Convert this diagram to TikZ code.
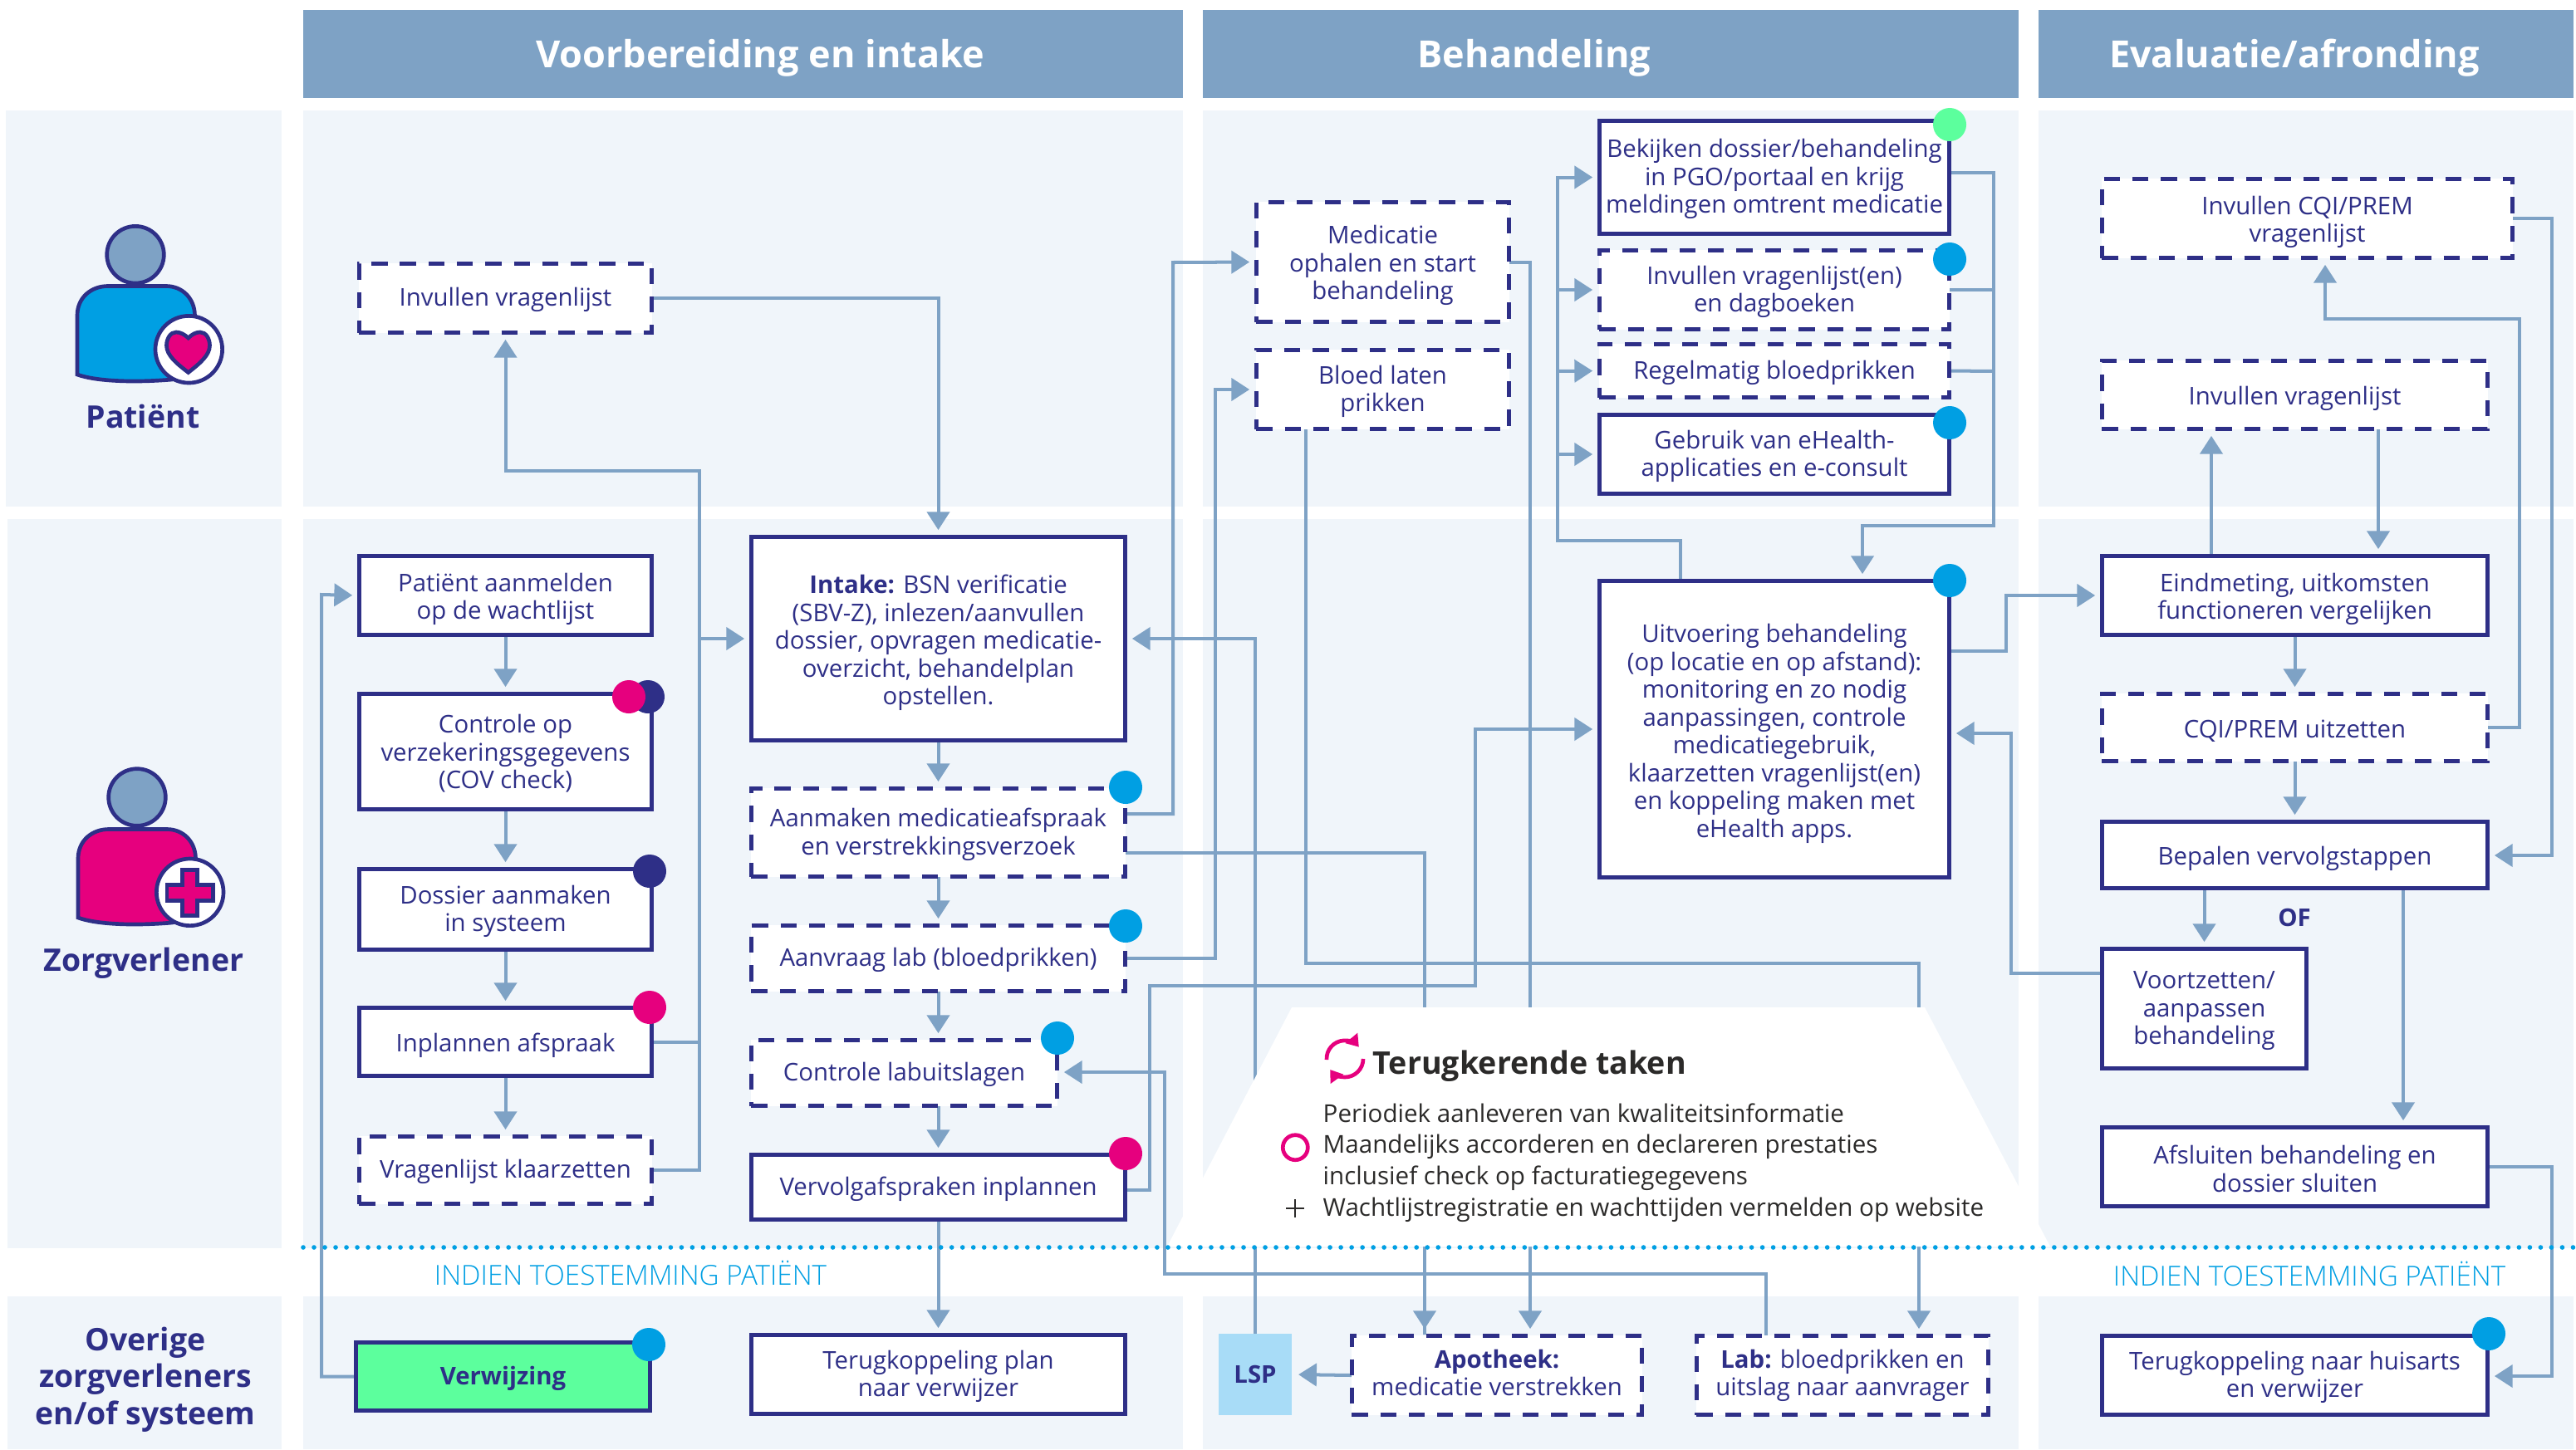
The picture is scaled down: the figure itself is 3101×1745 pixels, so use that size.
\documentclass[tikz,border=0pt]{standalone}
\usepackage{fontspec}
\setmainfont{Open Sans}
\newfontfamily\oslight{Open Sans Light}
\usetikzlibrary{arrows.meta,calc}
\definecolor{hdr}{HTML}{7EA2C5}
\definecolor{panelc}{HTML}{F0F5FA}
\definecolor{navy}{HTML}{2E2F87}
\definecolor{lnk}{HTML}{7EA2C5}
\definecolor{cblue}{HTML}{009FE3}
\definecolor{cmag}{HTML}{E6007E}
\definecolor{cgreen}{HTML}{5CFF9D}
\definecolor{clsp}{HTML}{A8DCF7}
\definecolor{ink}{HTML}{2B2A29}
\pgfdeclarelayer{panel}\pgfdeclarelayer{links}\pgfdeclarelayer{over}
\pgfsetlayers{panel,links,main,over}
\newcommand{\bx}[7]{%
  \pgfmathsetmacro\bxcx{(#3+#5)/2}\pgfmathsetmacro\bxcy{(#4+#6)/2}%
  \node[#2,minimum width={(#5-#3)*0.01cm-0.7pt},minimum height={(#6-#4)*0.01cm-0.7pt}] (#1) at (\bxcx,\bxcy) {\rule{0pt}{7.6pt}#7};}
\newcommand{\bxn}[7]{%
  \pgfmathsetmacro\bxcx{(#3+#5)/2}\pgfmathsetmacro\bxcy{(#4+#6)/2}%
  \node[#2,minimum width={(#5-#3)*0.01cm},minimum height={(#6-#4)*0.01cm}] (#1) at (\bxcx,\bxcy) {#7};}
\newcommand{\pn}[4]{\fill[panelc] (#1,#2) rectangle (#3,#4);}
\newcommand{\txtdown}{\rule{0pt}{8.7pt}}
\newcommand{\txtup}{\rule[-3pt]{0pt}{3pt}}
\tikzset{
  txt/.style={font=\fontsize{8.35pt}{9.53pt}\selectfont,text=navy,align=center,inner sep=0pt,outer sep=0pt},
  solidbox/.style={txt,draw=navy,line width=1.5pt,fill=white,rectangle},
  dashbox/.style={solidbox,dash pattern=on 5.5pt off 4.25pt},
  greenbox/.style={solidbox,fill=cgreen},
  lspbox/.style={txt,fill=clsp,font=\fontsize{8.35pt}{9.53pt}\selectfont\bfseries},
  hdrbox/.style={fill=hdr,text=white,inner sep=0pt,font=\fontsize{12.8pt}{14pt}\selectfont\bfseries},
  role/.style={text=navy,align=center,inner sep=0pt,font=\fontsize{10.64pt}{12.66pt}\selectfont\bfseries},
  note/.style={text=cblue,inner sep=0pt,font=\oslight\fontsize{9.44pt}{10pt}\selectfont},
  tasktxt/.style={text=ink,anchor=west,inner sep=0pt,font=\fontsize{8.41pt}{10pt}\selectfont},
  link/.style={draw=lnk,line width=1.14pt},
  arr/.style={link,-{Triangle[length=6.2pt,width=7.7pt]},shorten >=2.3pt},
  dot/.style={circle,inner sep=0pt,minimum size=0.40cm,draw=none},
  icon/.style={draw=navy,line width=1.33pt},
  refresh/.style={cmag,line width=1.33pt,-{Triangle[length=4pt,width=5.2pt]}},
}
\begin{document}
\begin{tikzpicture}[x=0.01cm,y=-0.01cm]
\useasboundingbox (0,0) rectangle (3101,1745);
\begin{pgfonlayer}{panel}
  \pn{7}{133}{339}{610}\pn{9}{625}{339}{1503}\pn{9}{1561}{339}{1745}
  \pn{365}{133}{1424}{610}\pn{365}{625}{1424}{1503}\pn{365}{1561}{1424}{1745}
  \pn{1448}{133}{2430}{610}\pn{1448}{625}{2430}{1503}\pn{1448}{1561}{2430}{1745}
  \pn{2454}{133}{3098}{610}\pn{2454}{625}{3098}{1503}\pn{2454}{1561}{3098}{1745}
\end{pgfonlayer}
% headers
\bxn{h1}{hdrbox}{365}{12}{1424}{118}{}
\bxn{h2}{hdrbox}{1448}{12}{2430}{118}{}
\bxn{h3}{hdrbox}{2454}{12}{3098}{118}{}
\node[hdrbox,fill=none] (t1) at (915,70) {Voorbereiding en intake};
\node[hdrbox,fill=none] (t2) at (1847,70) {Behandeling};
\node[hdrbox,fill=none] (t3) at (2762,70) {Evaluatie/afronding};
% role labels
\node[role] (rp) at (172,501) {Patiënt};
\node[role] (rz) at (173,1160) {Zorgverlener};
\node[role] (ro) at (175,1661) {Overige\\zorgverleners\\en/of systeem};
% column 1
\bx{vrag}{dashbox}{431}{316}{786}{402}{Invullen vragenlijst}
\bx{aanm}{solidbox}{431}{668}{786}{766}{\txtdown Patiënt aanmelden\\op de wachtlijst}
\bx{cont}{solidbox}{431}{834}{786}{976}{Controle op\\verzekeringsgegevens\\(COV check)}
\bx{doss}{solidbox}{431}{1045}{786}{1145}{Dossier aanmaken\\in systeem}
\bx{inpl}{solidbox}{431}{1212}{786}{1297}{\txtdown Inplannen afspraak}
\bx{klaar}{dashbox}{431}{1367}{786}{1451}{Vragenlijst klaarzetten}
\bx{verw}{greenbox}{427}{1615}{784}{1700}{\textbf{Verwijzing}}
% column 2
\bx{intake}{solidbox}{903}{645}{1356}{893}{\rule{0pt}{9.2pt}\textbf{Intake:} BSN verificatie\\(SBV-Z), inlezen/aanvullen\\dossier, opvragen medicatie-\\overzicht, behandelplan\\opstellen.}
\bx{afspr}{dashbox}{903}{948}{1356}{1057}{Aanmaken medicatieafspraak\\en verstrekkingsverzoek}
\bx{lab}{dashbox}{903}{1113}{1356}{1195}{Aanvraag lab (bloedprikken)}
\bx{uitsl}{dashbox}{903}{1251}{1274}{1333}{Controle labuitslagen}
\bx{vervg}{solidbox}{903}{1389}{1356}{1470}{Vervolgafspraken inplannen}
\bx{terp}{solidbox}{903}{1606}{1356}{1704}{Terugkoppeling plan\\naar verwijzer}
% column 3
\bx{medi}{dashbox}{1511}{242}{1818}{389}{\txtdown Medicatie\\ophalen en start\\behandeling}
\bx{bloed}{dashbox}{1511}{420}{1818}{518}{Bloed laten\\prikken}
\bx{bekij}{solidbox}{1924}{144}{2348}{283}{Bekijken dossier/behandeling\\in PGO/portaal en krijg\\meldingen omtrent medicatie}
\bx{dagb}{dashbox}{1924}{300}{2348}{398}{Invullen vragenlijst(en)\\en dagboeken}
\bx{regel}{dashbox}{1924}{413}{2348}{480}{Regelmatig bloedprikken}
\bx{ehea}{solidbox}{1924}{498}{2348}{596}{Gebruik van eHealth-\\applicaties en e-consult}
\bx{uitv}{solidbox}{1924}{698}{2348}{1058}{\rule{0pt}{9.4pt}Uitvoering behandeling\\(op locatie en op afstand):\\monitoring en zo nodig\\aanpassingen, controle\\medicatiegebruik,\\klaarzetten vragenlijst(en)\\en koppeling maken met\\eHealth apps.}
\bxn{lsp}{lspbox}{1467}{1606}{1555}{1704}{LSP}
\bx{apot}{dashbox}{1626}{1607}{1978}{1705}{\textbf{Apotheek:}\\medicatie verstrekken\txtup}
\bx{labo}{dashbox}{2041}{1607}{2395}{1705}{\textbf{Lab:} bloedprikken en\\uitslag naar aanvrager\txtup}
% column 4
\bx{cqi}{dashbox}{2529}{214}{3026}{312}{\txtdown Invullen CQI/PREM\\vragenlijst}
\bx{vrag2}{dashbox}{2529}{433}{2996}{518}{\txtdown Invullen vragenlijst}
\bx{eind}{solidbox}{2529}{668}{2996}{766}{\txtdown Eindmeting, uitkomsten\\functioneren vergelijken}
\bx{prem}{dashbox}{2529}{834}{2996}{918}{\txtdown CQI/PREM uitzetten}
\bx{bepa}{solidbox}{2529}{988}{2996}{1071}{\txtdown Bepalen vervolgstappen}
\bx{voor}{solidbox}{2529}{1141}{2778}{1288}{Voortzetten/\\aanpassen\\behandeling}
\bx{afsl}{solidbox}{2529}{1356}{2996}{1454}{Afsluiten behandeling en\\dossier sluiten}
\bx{huis}{solidbox}{2529}{1607}{2996}{1705}{Terugkoppeling naar huisarts\\en verwijzer}
\node[txt,font=\fontsize{8.35pt}{9.53pt}\selectfont\bfseries] (of) at (2762,1105) {OF};
% connectors
\begin{pgfonlayer}{links}
  \draw[arr] (aanm) -- (cont);
  \draw[arr] (cont) -- (doss);
  \draw[arr] (doss) -- (inpl);
  \draw[arr] (inpl) -- (klaar);
  \draw[arr] (klaar.east) -| (842,567) -| (vrag.south);
  \draw[arr] (inpl.east) -| (842,769) -- (intake.west);
  \draw[arr] (vrag.east) -| (intake.north);
  \draw[arr] (verw.west) -| (387,716) -- (aanm.west);
  \draw[arr] (intake) -- (afspr);
  \draw[arr] (afspr) -- (lab);
  \draw[arr] (lab.south) -- (uitsl.north -| lab.south);
  \draw[arr] (uitsl.south -| vervg.north) -- (vervg.north);
  \draw[arr] (vervg) -- (terp);
  \draw[arr] (afspr.east |- 0,980) -| (1412,316) -- (medi.west);
  \draw[arr] (afspr.east |- 0,1027) -| (1715,1607) -- (apot.north -| 1715,0);
  \draw[arr] (lab.east) -| (1463,469) -- (bloed.west);
  \draw[arr] (vervg.east |- 0,1433) -| (1384,1187) -| (1776,878) -- (uitv.west |- 0,878);
  \draw[arr] (lsp.north) |- (intake.east);
  \draw[arr] (medi.east) -| (apot.north -| 1842,0);
  \draw[arr] (bloed.south -| 1572,0) |- (2310,1160) -- (labo.north -| 2310,0);
  \draw[arr] (labo.north -| 2126,0) |- (1402,1534) |- (uitsl.east |- 0,1291);
  \draw[arr] (uitv.north -| 2023,0) |- (1875,651) |- (bekij.west);
  \draw[arr] (1875,349) -- (dagb.west);
  \draw[arr] (1875,447) -- (regel.west);
  \draw[arr] (1875,547) -- (ehea.west);
  \draw[arr] (bekij.east |- 0,208) -| (2400,633) -| (uitv.north -| 2242,0);
  \draw[link] (dagb.east) -- (2400,349);
  \draw[link] (regel.east) -- (2400,447);
  \draw[arr] (uitv.east |- 0,784) -| (2415,717) -- (eind.west);
  \draw[arr] (eind.north -| 2662,0) -- (vrag2.south -| 2662,0);
  \draw[arr] (vrag2.south -| 2863,0) -- (eind.north -| 2863,0);
  \draw[arr] (eind) -- (prem);
  \draw[arr] (prem) -- (bepa);
  \draw[arr] (prem.east) -| (3033,384) -| (cqi.south -| 2799,0);
  \draw[arr] (cqi.east) -| (3072,1030) -- (bepa.east |- 0,1030);
  \draw[arr] (bepa.south -| voor.north) -- (voor.north);
  \draw[arr] (bepa.south -| 2893,0) -- (afsl.north -| 2893,0);
  \draw[arr] (voor.west |- 0,1172) -| (2421,883) -- (uitv.east |- 0,883);
  \draw[arr] (afsl.east) -| (3072,1657) -- (huis.east |- 0,1657);
  \draw[arr] (apot.west) -- (lsp.east);
\end{pgfonlayer}
\begin{pgfonlayer}{over}
  % recurring tasks panel
  \fill[white] (1555,1213) -- (2317,1213) -- (2468,1501) -- (1405,1501) -- cycle;
  \draw[cblue,line width=1.6pt,line cap=round,dash pattern=on 0pt off 3.7pt] (365,1502) -- (3101,1502);
  \node[note] (n1) at (759,1533) {INDIEN TOESTEMMING PATIËNT};
  \node[note] (n2) at (2780,1534) {INDIEN TOESTEMMING PATIËNT};
  \node[inner sep=0pt,text=ink,anchor=west,font=\fontsize{10.7pt}{12pt}\selectfont\bfseries] (tt) at (1652,1284) {Terugkerende taken};
  \draw[refresh] (1597,1276) arc[start angle=183,end angle=40,radius=0.22cm];
  \draw[refresh] (1641,1275) arc[start angle=0,end angle=-144,radius=0.22cm];
  \node[tasktxt] (l1) at (1592,1340) {Periodiek aanleveren van kwaliteitsinformatie};
  \node[tasktxt] (l2) at (1592,1381) {Maandelijks accorderen en declareren prestaties};
  \node[tasktxt] (l3) at (1592,1419) {inclusief check op facturatiegegevens};
  \node[tasktxt] (l4) at (1592,1457) {Wachtlijstregistratie en wachttijden vermelden op website};
  \draw[cmag,line width=1.33pt] (1559.3,1381.7) circle[radius=0.15cm];
  \draw[ink,line width=0.6pt] (1548,1455) -- (1570,1455) (1559,1444) -- (1559,1466);
  % status dots
  \node[dot,fill=navy] (d1b) at (780,839) {};
  \node[dot,fill=cmag] (d1a) at (757,839) {};
  \node[dot,fill=navy] (d2) at (782,1049) {};
  \node[dot,fill=cmag] (d3) at (782,1213) {};
  \node[dot,fill=cblue] (d4) at (1355,948) {};
  \node[dot,fill=cblue] (d5) at (1355,1115) {};
  \node[dot,fill=cblue] (d6) at (1273,1250) {};
  \node[dot,fill=cmag] (d7) at (1355,1389) {};
  \node[dot,fill=cblue] (d8) at (781,1619) {};
  \node[dot,fill=cgreen] (d9) at (2347,150) {};
  \node[dot,fill=cblue] (d10) at (2347,312) {};
  \node[dot,fill=cblue] (d11) at (2347,509) {};
  \node[dot,fill=cblue] (d12) at (2347,699) {};
  \node[dot,fill=cblue] (d13) at (2996,1606) {};
  % patient icon
  \draw[icon,fill=cblue] (93,451) -- (93,380) .. controls (93,358) and (110,344.5) .. (130,344.5) -- (200,344.5) .. controls (220,344.5) and (234.5,360) .. (234.5,380) -- (234.5,450) -- (207,457) .. controls (160,461) and (115,459) .. (93,451) -- cycle;
  \draw[icon,fill=hdr] (163,306.7) circle[radius=0.343cm];
  \draw[icon,fill=white] (227.3,420.7) circle[radius=0.403cm];
  \draw[icon,fill=cmag,miter limit=10] (226.7,407) .. controls (231,402.5) and (236,400) .. (241,400) .. controls (248,400) and (252.5,408) .. (252.5,416) .. controls (252.5,428) and (240,438) .. (226.7,448.5) .. controls (213,438) and (200.5,428) .. (200.5,416) .. controls (200.5,408) and (205,400) .. (212,400) .. controls (217,400) and (222,402.5) .. (226.7,407) -- cycle;
  % care provider icon
  \draw[icon,fill=cmag] (94,1105) -- (94,1034) .. controls (94,1012) and (111,998.5) .. (131,998.5) -- (201,998.5) .. controls (221,998.5) and (235.5,1014) .. (235.5,1034) -- (235.5,1104) -- (207,1111) .. controls (160,1115) and (116,1113) .. (94,1105) -- cycle;
  \draw[icon,fill=hdr] (165,960) circle[radius=0.343cm];
  \draw[icon,fill=white] (228.7,1074.3) circle[radius=0.403cm];
  \draw[icon,fill=cmag] (219.7,1047.3) -- (237.7,1047.3) -- (237.7,1065.3) -- (256.7,1065.3) -- (256.7,1084.4) -- (237.7,1084.4) -- (237.7,1102.7) -- (219.7,1102.7) -- (219.7,1084.4) -- (201,1084.4) -- (201,1065.3) -- (219.7,1065.3) -- cycle;
\end{pgfonlayer}
\end{tikzpicture}
\end{document}
